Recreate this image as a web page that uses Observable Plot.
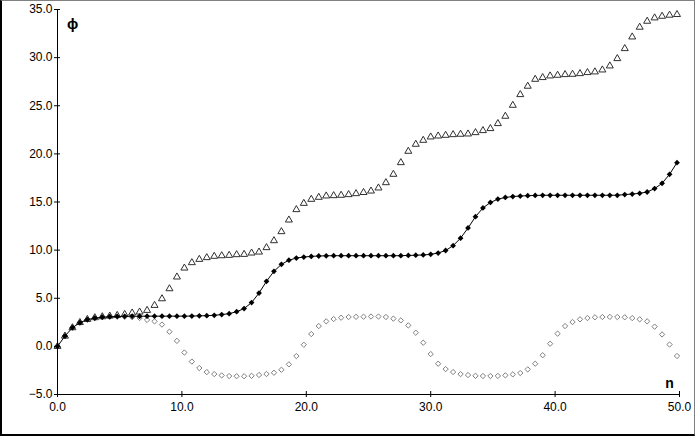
<!DOCTYPE html>
<html><head><meta charset="utf-8">
<script src="https://cdn.jsdelivr.net/npm/d3@7"></script>
<script src="https://cdn.jsdelivr.net/npm/@observablehq/plot@0.6"></script>
<style>
html,body{margin:0;padding:0;background:#fff;}
#wrap{position:relative;width:695px;height:436px;overflow:hidden;}
#wrap svg{display:block;}
#border{position:absolute;left:0;top:0;width:695px;height:436px;box-sizing:border-box;border-left:2px solid #000;border-bottom:2px solid #000;border-top:1px solid #808080;border-right:1px solid #808080;pointer-events:none;}
</style></head><body>
<div id="wrap"><div id="border"></div></div>
<script>
const nValues = [0,0.6,1.2,1.8,2.4,3,3.6,4.2,4.8,5.4,6,6.6,7.2,7.8,8.4,9,9.6,10.2,10.8,11.4,12,12.6,13.2,13.8,14.4,15,15.6,16.2,16.8,17.4,18,18.6,19.2,19.8,20.4,21,21.6,22.2,22.8,23.4,24,24.6,25.2,25.8,26.4,27,27.6,28.2,28.8,29.4,30,30.6,31.2,31.8,32.4,33,33.6,34.2,34.8,35.4,36,36.6,37.2,37.8,38.4,39,39.6,40.2,40.8,41.4,42,42.6,43.2,43.8,44.4,45,45.6,46.2,46.8,47.4,48,48.6,49.2,49.8];
const phiMid = [0,1.07,1.94,2.46,2.78,2.94,3.03,3.08,3.11,3.12,3.13,3.13,3.14,3.14,3.14,3.14,3.14,3.14,3.15,3.17,3.19,3.23,3.30,3.40,3.60,3.93,4.55,5.54,6.76,7.80,8.52,8.95,9.18,9.28,9.35,9.39,9.41,9.42,9.42,9.42,9.42,9.42,9.42,9.42,9.42,9.42,9.42,9.45,9.47,9.50,9.56,9.70,9.96,10.46,11.24,12.30,13.47,14.38,14.95,15.30,15.47,15.57,15.62,15.66,15.68,15.70,15.70,15.70,15.70,15.70,15.70,15.70,15.70,15.70,15.70,15.70,15.77,15.83,15.90,16.04,16.39,16.94,17.88,19.09];
const phiTri = [0,1.07,1.94,2.48,2.80,2.98,3.08,3.15,3.22,3.32,3.47,3.57,3.74,4.26,4.95,5.99,7.21,8.14,8.70,9.04,9.22,9.36,9.42,9.46,9.53,9.56,9.70,9.80,10.26,10.98,11.92,13.13,14.21,14.86,15.28,15.49,15.63,15.66,15.70,15.77,15.87,15.99,16.14,16.46,17.01,17.88,19.09,20.27,21.00,21.41,21.76,21.86,21.93,22.00,22.04,22.07,22.21,22.42,22.63,23.15,23.91,25.05,26.16,27.03,27.75,27.93,28.10,28.17,28.24,28.27,28.34,28.45,28.52,28.72,29.14,29.90,30.94,32.15,33.16,33.78,34.13,34.30,34.41,34.48];
const phiDia = [0,1.07,1.94,2.46,2.78,2.94,3.03,3.07,3.08,3.07,3.03,2.95,2.75,2.60,2.27,1.52,0.57,-0.64,-1.58,-2.25,-2.67,-2.88,-3.02,-3.08,-3.10,-3.10,-3.06,-2.97,-2.87,-2.74,-2.43,-1.87,-1.01,0.17,1.28,2.11,2.60,2.84,2.98,3.05,3.07,3.08,3.10,3.10,3.05,2.88,2.70,2.18,1.42,0.38,-0.80,-1.80,-2.36,-2.67,-2.88,-2.98,-3.06,-3.08,-3.08,-3.07,-3.01,-2.91,-2.77,-2.39,-1.80,-0.92,0.28,1.32,2.11,2.53,2.81,2.94,3.02,3.05,3.06,3.05,3.02,2.94,2.81,2.60,2.05,1.24,0.19,-1.00];
const xTicks = [0,10,20,30,40,50];
const yTicks = [-5,0,5,10,15,20,25,30,35];
const yName = "ϕ";
const xName = "n";

const rows = s => nValues.map((n, i) => ({n, phi: s[i]}));
const fmt = d3.format(".1f");
const blank = () => "";

const chart = Plot.plot({
  width: 695, height: 436,
  marginLeft: 57, marginRight: 16, marginTop: 9, marginBottom: 42,
  style: {fontFamily: "'Liberation Sans', Arial, sans-serif", fontSize: "12px", color: "#000", background: "transparent"},
  x: {domain: [0, 50]},
  y: {domain: [-5, 35]},
  marks: [
    Plot.dot(rows(phiDia), {x: "n", y: "phi", symbol: "diamond2", r: 2.4, stroke: "#808080", fill: "none", strokeWidth: 1}),
    Plot.dot(rows(phiTri), {x: "n", y: "phi", symbol: "triangle", r: 2.6, stroke: "#303030", fill: "none", strokeWidth: 1}),
    Plot.line(rows(phiMid), {x: "n", y: "phi", stroke: "#000", strokeWidth: 1}),
    Plot.dot(rows(phiMid), {x: "n", y: "phi", symbol: "diamond2", r: 2.6, fill: "#000", stroke: "none"}),
    Plot.ruleX([0], {stroke: "#000"}),
    Plot.ruleY([-5], {stroke: "#000"}),
    Plot.axisY(yTicks, {tickSize: 6, dx: 3, tickFormat: blank, label: null}),
    Plot.axisY(yTicks, {tickSize: 0, tickPadding: 5, tickFormat: fmt, label: null}),
    Plot.axisX(xTicks, {tickSize: 6, dy: -3, tickFormat: blank, label: null}),
    Plot.axisX(xTicks, {tickSize: 0, tickPadding: 8, tickFormat: fmt, label: null}),
    Plot.text([yName], {text: d => d, frameAnchor: "top-left", dx: 15, dy: 15, textAnchor: "middle", lineAnchor: "middle", fontSize: 15, fontWeight: "bold", fill: "#000"}),
    Plot.text([xName], {text: d => d, frameAnchor: "bottom-right", dx: -10, dy: -11, textAnchor: "middle", lineAnchor: "middle", fontSize: 14, fontWeight: "bold", fill: "#000"})
  ]
});
document.getElementById("wrap").prepend(chart);
</script>
</body></html>
